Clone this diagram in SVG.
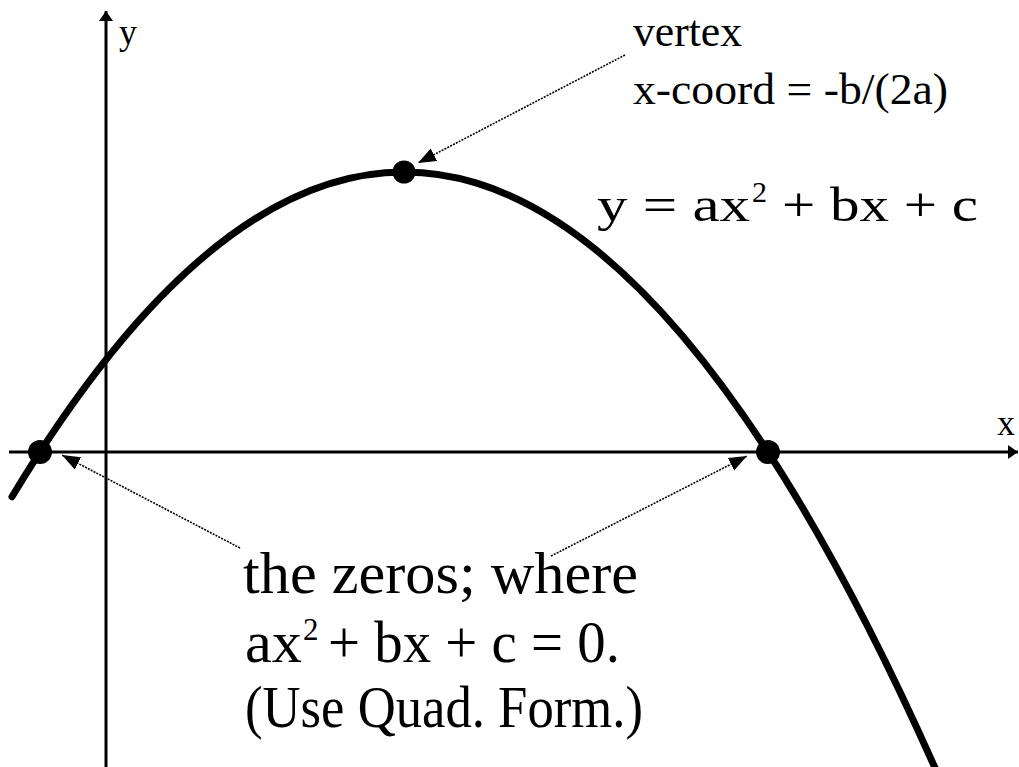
<svg xmlns="http://www.w3.org/2000/svg" width="1019" height="767" viewBox="0 0 1019 767">
<style>
text{font-family:"Liberation Serif","Times New Roman",serif;fill:#000}
.axis{stroke:#000;stroke-width:3;fill:none}
.curve{stroke:#000;stroke-width:7;fill:none;stroke-linecap:round}
.dot{fill:#000}
.ptr{stroke:#000;stroke-width:1.6;stroke-dasharray:2 1.2;fill:none}
</style>
<defs>
<marker id="ah" markerUnits="userSpaceOnUse" markerWidth="20" markerHeight="16" refX="18" refY="7" orient="auto">
<path d="M0,0 L18,7 L0,14 Z" fill="#000"/>
</marker>
<marker id="axh" markerUnits="userSpaceOnUse" markerWidth="12" markerHeight="16" refX="10" refY="7" orient="auto">
<path d="M0,0 L10,7 L0,14 Z" fill="#000"/>
</marker>
</defs>
<rect width="1019" height="767" fill="#fff"/>
<g id="axes">
<line class="axis" x1="106" y1="767" x2="106" y2="11" marker-end="url(#axh)"/>
<line class="axis" x1="9" y1="452" x2="1018" y2="452" marker-end="url(#axh)"/>
<text x="119" y="44" font-size="36">y</text>
<text x="997" y="435" font-size="36">x</text>
</g>
<g id="parabola">
<path class="curve" d="M12,496.7 Q476,-272.1 940,779.2"/>
</g>
<g id="vertex-dot"><circle class="dot" cx="404" cy="172" r="11.5"/></g>
<g id="zero-left"><circle class="dot" cx="40" cy="452" r="12"/></g>
<g id="zero-right"><circle class="dot" cx="768" cy="452" r="12"/></g>
<g id="connectors">
<line class="ptr" x1="625" y1="55" x2="418" y2="163" marker-end="url(#ah)"/>
<line class="ptr" x1="240" y1="548" x2="62" y2="455" marker-end="url(#ah)"/>
<line class="ptr" x1="551" y1="556" x2="747" y2="456" marker-end="url(#ah)"/>
</g>
<g id="vertex-label">
<text x="633" y="46" font-size="44" textLength="109" lengthAdjust="spacingAndGlyphs">vertex</text>
<text x="633" y="104" font-size="44" textLength="315" lengthAdjust="spacingAndGlyphs">x-coord = -b/(2a)</text>
</g>
<g id="equation-label">
<text x="597" y="221" font-size="48" textLength="153" lengthAdjust="spacingAndGlyphs">y = ax</text>
<text x="752" y="202" font-size="30">2</text>
<text x="782" y="221" font-size="48" textLength="196" lengthAdjust="spacingAndGlyphs">+ bx + c</text>
</g>
<g id="zeros-label">
<text x="243" y="593" font-size="60" textLength="395" lengthAdjust="spacingAndGlyphs">the zeros; where</text>
<text x="245" y="662" font-size="60" textLength="57" lengthAdjust="spacingAndGlyphs">ax</text>
<text x="303" y="640" font-size="31">2</text>
<text x="328" y="662" font-size="60" textLength="292" lengthAdjust="spacingAndGlyphs">+ bx + c = 0.</text>
<text x="245" y="727" font-size="60" textLength="398" lengthAdjust="spacingAndGlyphs">(Use Quad. Form.)</text>
</g>
</svg>
